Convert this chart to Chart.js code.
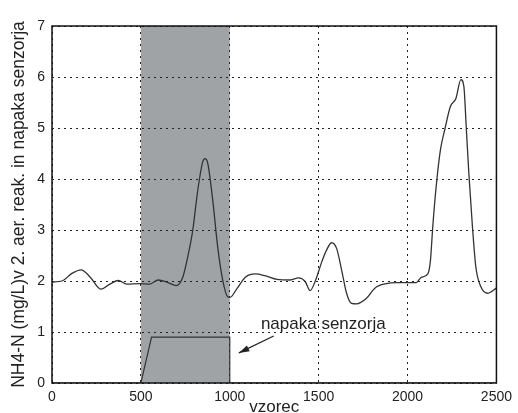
<!DOCTYPE html>
<html>
<head>
<meta charset="utf-8">
<script src="https://cdn.jsdelivr.net/npm/chart.js@4/dist/chart.umd.min.js"></script>
<style>
  body { margin: 0; background: #fff; }
  #wrap { width: 518px; height: 413px; }
</style>
</head>
<body>
<div id="wrap"><canvas id="nh4Chart" width="518" height="413"></canvas></div>
<script>
// NH4-N signal (sample index / mg/L)
const sampleX = [0, 56, 112, 164, 214, 276, 326, 373, 420, 494, 550, 597, 652, 699, 736, 764, 792, 820, 848, 861, 876, 904, 932, 960, 988, 1001,
  1042, 1089, 1145, 1201, 1266, 1340, 1387, 1424, 1452, 1480, 1518, 1545, 1573, 1601, 1629, 1657, 1685, 1713, 1769, 1816, 1881, 1937,
  2049, 2077, 2114, 2129, 2142, 2161, 2185, 2211, 2241, 2272, 2300, 2317, 2330, 2345, 2365, 2384, 2412, 2449, 2500];
const nh4Values = [1.98, 2.0, 2.15, 2.22, 2.08, 1.84, 1.94, 2.01, 1.94, 1.95, 1.94, 2.02, 1.97, 1.91, 2.08, 2.48, 3.0, 3.78, 4.34, 4.40, 4.31, 3.59, 2.67, 2.02, 1.69, 1.68,
  1.86, 2.08, 2.14, 2.10, 2.03, 2.02, 2.06, 1.99, 1.81, 1.99, 2.38, 2.61, 2.75, 2.64, 2.22, 1.76, 1.56, 1.55, 1.66, 1.86, 1.95, 1.97,
  1.97, 2.07, 2.14, 2.41, 3.07, 3.85, 4.57, 4.99, 5.42, 5.58, 5.95, 5.81, 5.03, 4.1, 3.07, 2.28, 1.89, 1.76, 1.86];

// sensor fault signal
const faultX = [0, 500, 560, 1000, 1000, 2500];
const faultValues = [0, 0, 0.9, 0.9, 0, 0];

// shaded fault interval
const faultBand = [500, 1000];

const xTicks = [0, 500, 1000, 1500, 2000, 2500];
const yTicks = [0, 1, 2, 3, 4, 5, 6, 7];

const toPoints = (xs, ys) => xs.map((x, i) => ({ x: x, y: ys[i] }));

// gray band under the grid, frame + arrow note on top
const extras = {
  id: "extras",
  beforeDraw(chart) {
    const { ctx, chartArea, scales } = chart;
    const x0 = scales.x.getPixelForValue(faultBand[0]);
    const x1 = scales.x.getPixelForValue(faultBand[1]);
    ctx.save();
    ctx.fillStyle = "#a0a3a6";
    ctx.fillRect(x0, chartArea.top, x1 - x0, chartArea.bottom - chartArea.top);
    ctx.restore();
  },
  afterDraw(chart) {
    const { ctx, chartArea, scales } = chart;
    ctx.save();
    ctx.strokeStyle = "#111";
    ctx.lineWidth = 1.5;
    ctx.strokeRect(chartArea.left, chartArea.top, chartArea.right - chartArea.left, chartArea.bottom - chartArea.top);

    // note text
    ctx.fillStyle = "#222";
    ctx.font = "17px 'Liberation Sans', Arial, sans-serif";
    ctx.textAlign = "left";
    ctx.textBaseline = "middle";
    ctx.fillText("napaka senzorja", scales.x.getPixelForValue(1175), scales.y.getPixelForValue(1.16));

    // arrow
    const tx = scales.x.getPixelForValue(1247), ty = scales.y.getPixelForValue(0.92);
    const hx = scales.x.getPixelForValue(1051), hy = scales.y.getPixelForValue(0.59);
    const ang = Math.atan2(hy - ty, hx - tx);
    ctx.strokeStyle = "#222";
    ctx.lineWidth = 1.2;
    ctx.beginPath();
    ctx.moveTo(tx, ty);
    ctx.lineTo(hx, hy);
    ctx.stroke();
    ctx.beginPath();
    ctx.moveTo(hx, hy);
    ctx.lineTo(hx - 11 * Math.cos(ang - 0.3), hy - 11 * Math.sin(ang - 0.3));
    ctx.lineTo(hx - 11 * Math.cos(ang + 0.3), hy - 11 * Math.sin(ang + 0.3));
    ctx.closePath();
    ctx.fill();
    ctx.restore();
  }
};

const tickFont = { family: "'Liberation Sans', Arial, sans-serif", size: 14 };

new Chart(document.getElementById("nh4Chart"), {
  type: "line",
  data: {
    datasets: [{
      label: "NH4-N",
      data: toPoints(sampleX, nh4Values),
      borderColor: "#333",
      borderWidth: 1.3,
      pointRadius: 0,
      cubicInterpolationMode: "monotone",
      fill: false
    }, {
      label: "napaka senzorja",
      data: toPoints(faultX, faultValues),
      borderColor: "#333",
      borderWidth: 1.2,
      pointRadius: 0,
      tension: 0,
      fill: false
    }]
  },
  options: {
    responsive: false,
    animation: false,
    events: [],
    layout: { padding: { top: 26, right: 19, left: 0, bottom: 0 } },
    plugins: {
      legend: { display: false },
      tooltip: { enabled: false }
    },
    scales: {
      x: {
        type: "linear",
        min: 0,
        max: 2500,
        afterFit(scale) { scale.height = 30; },
        afterBuildTicks(scale) { scale.ticks = xTicks.map(v => ({ value: v })); },
        grid: { color: "#222", drawTicks: false },
        border: { display: false, dash: [2, 4] },
        ticks: {
          padding: 6,
          color: "#222",
          font: tickFont,
          maxRotation: 0,
          callback: v => String(v)
        },
        title: {
          display: true,
          text: "vzorec",
          color: "#222",
          font: { family: "'Liberation Sans', Arial, sans-serif", size: 17 },
          padding: { top: 0, bottom: -5 }
        }
      },
      y: {
        min: 0,
        max: 7,
        afterFit(scale) { scale.width = 52; },
        afterBuildTicks(scale) { scale.ticks = yTicks.map(v => ({ value: v })); },
        grid: { color: "#222", drawTicks: false },
        border: { display: false, dash: [2, 4] },
        ticks: {
          padding: 7,
          color: "#222",
          font: tickFont,
          callback: v => String(v)
        },
        title: {
          display: true,
          text: "NH4-N (mg/L)v 2. aer. reak. in napaka senzorja",
          color: "#222",
          font: { family: "'Liberation Sans', Arial, sans-serif", size: 17.5 },
          padding: { top: 9, bottom: 0 }
        }
      }
    }
  },
  plugins: [extras]
});
</script>
</body>
</html>
